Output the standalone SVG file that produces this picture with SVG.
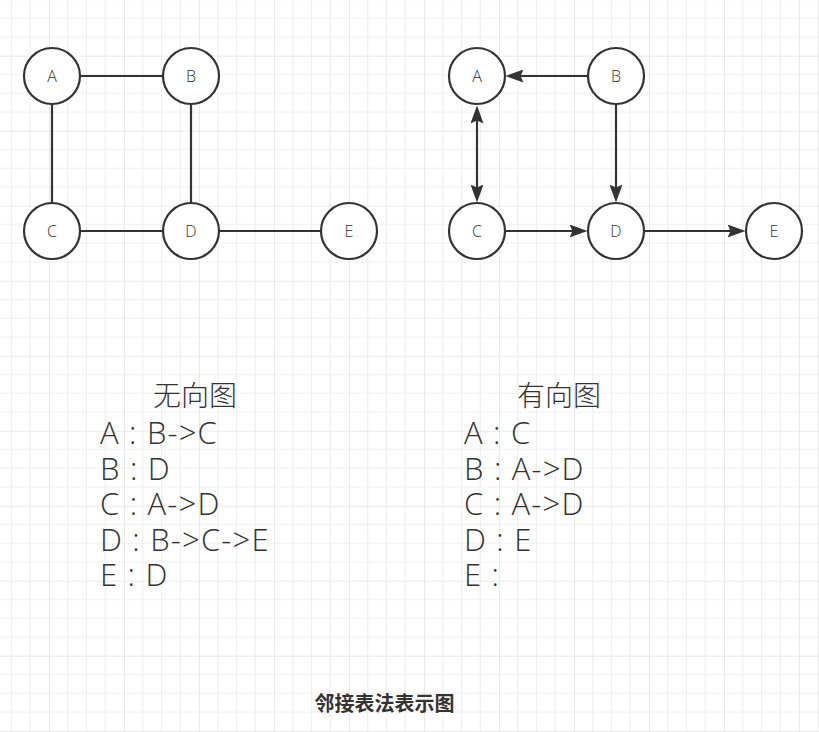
<svg xmlns="http://www.w3.org/2000/svg" width="819" height="732" viewBox="0 0 819 732">
<style>
.node circle{fill:#fff;stroke:#333;stroke-width:2.2}
.node text{font-family:"Open Sans","Noto Sans",sans-serif;font-size:16px;font-weight:300;fill:#333;text-anchor:middle;dominant-baseline:central}
.edge{stroke:#333;stroke-width:2.2;fill:none}
.big{font-family:"Open Sans","Noto Sans CJK SC",sans-serif;font-size:31px;font-weight:300;letter-spacing:1.2px;fill:#333}
.cap{font-family:"Noto Sans CJK SC",sans-serif;font-size:28px;font-weight:300;fill:#333;text-anchor:middle}
.title{font-family:"Noto Sans CJK SC",sans-serif;font-size:20px;font-weight:bold;fill:#333;text-anchor:middle}
</style>
<defs>
<pattern id="grid" patternUnits="userSpaceOnUse" x="49" y="55.7" width="75" height="75">
<path d="M18.75 0V75M37.5 0V75M56.25 0V75M0 18.75H75M0 37.5H75M0 56.25H75" stroke="#efefef" stroke-width="1.2" fill="none"/>
<path d="M0 0V75M0 0H75" stroke="#e3e3e3" stroke-width="1.5" fill="none"/>
</pattern>
<marker id="arr" markerUnits="userSpaceOnUse" markerWidth="18" markerHeight="13" viewBox="0 0 18 13" refX="4" refY="6.5" orient="auto-start-reverse">
<path d="M0,0 L18,6.5 L0,13 L3,6.5 Z" fill="#333"/>
</marker>
</defs>
<rect width="819" height="732" fill="#fff"/>
<rect width="819" height="732" fill="url(#grid)"/>
<g id="connectors">
<line class="edge" x1="80" y1="76" x2="163" y2="76"/>
<line class="edge" x1="52" y1="104" x2="52" y2="203"/>
<line class="edge" x1="191" y1="104" x2="191" y2="203"/>
<line class="edge" x1="80" y1="231" x2="163" y2="231"/>
<line class="edge" x1="219" y1="231" x2="321" y2="231"/>
<line class="edge" x1="588" y1="76" x2="519.5" y2="76" marker-end="url(#arr)"/>
<line class="edge" x1="477" y1="119.5" x2="477" y2="188.5" marker-start="url(#arr)" marker-end="url(#arr)"/>
<line class="edge" x1="616" y1="104" x2="616" y2="188.5" marker-end="url(#arr)"/>
<line class="edge" x1="505" y1="231" x2="573.5" y2="231" marker-end="url(#arr)"/>
<line class="edge" x1="644" y1="231" x2="731.5" y2="231" marker-end="url(#arr)"/>
</g>
<g id="uA" class="node"><circle cx="52" cy="76" r="28"/><text x="52" y="76">A</text></g>
<g id="uB" class="node"><circle cx="191" cy="76" r="28"/><text x="191" y="76">B</text></g>
<g id="uC" class="node"><circle cx="52" cy="231" r="28"/><text x="52" y="231">C</text></g>
<g id="uD" class="node"><circle cx="191" cy="231" r="28"/><text x="191" y="231">D</text></g>
<g id="uE" class="node"><circle cx="349" cy="231" r="28"/><text x="349" y="231">E</text></g>
<g id="dA" class="node"><circle cx="477" cy="76" r="28"/><text x="477" y="76">A</text></g>
<g id="dB" class="node"><circle cx="616" cy="76" r="28"/><text x="616" y="76">B</text></g>
<g id="dC" class="node"><circle cx="477" cy="231" r="28"/><text x="477" y="231">C</text></g>
<g id="dD" class="node"><circle cx="616" cy="231" r="28"/><text x="616" y="231">D</text></g>
<g id="dE" class="node"><circle cx="774" cy="231" r="28"/><text x="774" y="231">E</text></g>
<g id="undirected-list">
<text class="cap" x="195" y="406">无向图</text>
<text class="big" x="100" y="444">A : B-&gt;C</text>
<text class="big" x="100" y="479.5">B : D</text>
<text class="big" x="100" y="515">C : A-&gt;D</text>
<text class="big" x="100" y="550.5">D : B-&gt;C-&gt;E</text>
<text class="big" x="100" y="586">E : D</text>
</g>
<g id="directed-list">
<text class="cap" x="559" y="406">有向图</text>
<text class="big" x="464" y="444">A : C</text>
<text class="big" x="464" y="479.5">B : A-&gt;D</text>
<text class="big" x="464" y="515">C : A-&gt;D</text>
<text class="big" x="464" y="550.5">D : E</text>
<text class="big" x="464" y="586">E : </text>
</g>
<g id="title"><text class="title" x="384.5" y="711">邻接表法表示图</text></g>
</svg>
